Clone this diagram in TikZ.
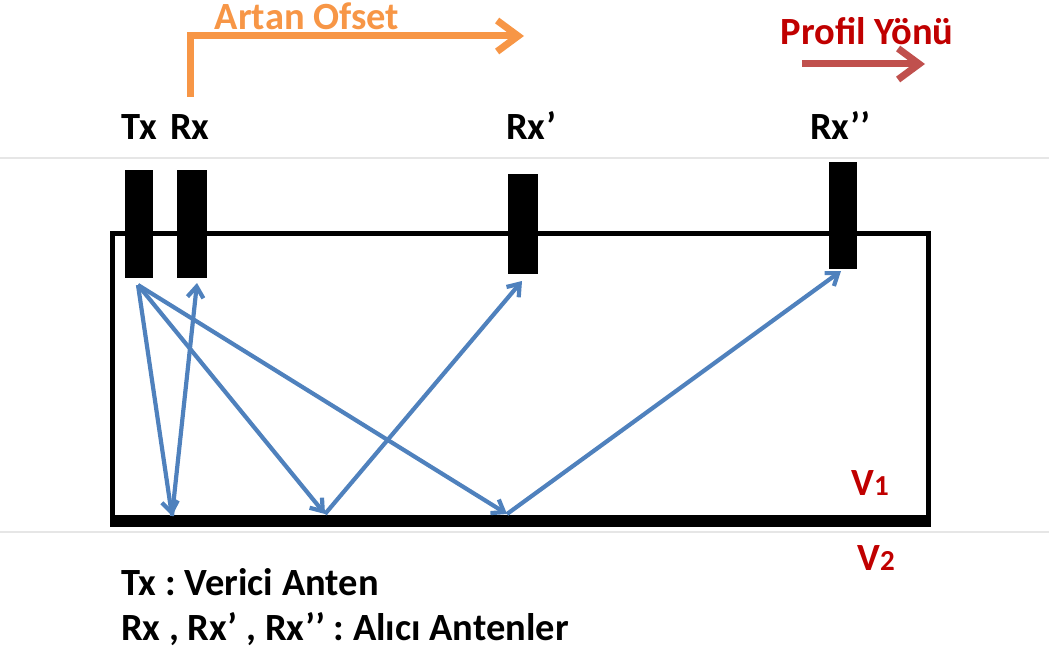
\documentclass[tikz,border=0pt]{standalone}
\usepackage{fontspec}
\setmainfont{Carlito}
\usetikzlibrary{arrows.meta}
\frenchspacing
\definecolor{wave}{HTML}{4F81BD}
\definecolor{orng}{HTML}{F79646}
\definecolor{dred}{HTML}{C00000}
\definecolor{pred}{HTML}{C0504D}
\definecolor{guide}{HTML}{E6E6E6}
\tikzset{
  lbl/.style={inner sep=0pt, anchor=base, font=\fontsize{38.5}{42}\selectfont\bfseries},
  ant/.style={fill=black, draw=none, inner sep=0pt, anchor=north west},
  ray/.style={draw=wave, line width=4.2pt, -{Straight Barb[length=11pt,width=16pt,line width=4.2pt]}},
  bigarrow/.style={line width=7pt, -{Straight Barb[length=21pt,width=31pt,line width=7pt]}},
}
\begin{document}
\begin{tikzpicture}[x=1pt,y=-1pt]
\useasboundingbox (0,0) rectangle (1049,655);
% guide lines
\draw[guide, line width=1.2pt] (0,158) -- (1049,158);
\draw[guide, line width=1.2pt] (0,532) -- (1049,532);
% ground box
\draw[line width=5pt] (928,521) -- (928,233) -- (112,233) -- (112,521);
\draw[line width=12pt] (110,521) -- (931,521);
% antennas
\node[ant, minimum width=28pt, minimum height=108pt] (tx) at (125,170) {};
\node[ant, minimum width=30pt, minimum height=108pt] (rx) at (177,170) {};
\node[ant, minimum width=30pt, minimum height=100pt] (rx1) at (508,174) {};
\node[ant, minimum width=28pt, minimum height=107pt] (rx2) at (829,162) {};
% labels
\node[lbl] (ltx) at (139,140) {Tx};
\node[lbl] (lrx) at (190,140) {Rx};
\node[lbl] (lrx1) at (531,140) {Rx’};
\node[lbl] (lrx2) at (840,140) {Rx’’};
\node[lbl, text=orng] (artan) at (307,30) {Artan Ofset};
\node[lbl, text=dred] (profil) at (867,45) {Profil Yönü};
\node[lbl, text=dred] (v1) at (870,495) {V{\fontsize{29}{32}\selectfont 1}};
\node[lbl, text=dred] (v2) at (876,570) {V{\fontsize{29}{32}\selectfont 2}};
\node[lbl, anchor=base west] (leg1) at (121,595) {Tx : Verici Anten};
\node[lbl, anchor=base west] (leg2) at (121,640) {Rx , Rx’ , Rx’’ : Alıcı Antenler};
% direction arrows
\coordinate (oa) at (190,97);
\coordinate (ob) at (190,36);
\coordinate (oc) at (524,36);
\draw[bigarrow, draw=orng] (oa) -- (ob) -- (oc);
\coordinate (pa) at (802,64);
\coordinate (pb) at (925,64);
\draw[bigarrow, draw=pred] (pa) -- (pb);
% rays
\coordinate (src) at (138,285);
\coordinate (r0) at (172,516);
\coordinate (r1) at (325,514);
\coordinate (r2) at (507,514);
\coordinate (e0) at (197,283);
\coordinate (e1) at (522,281);
\coordinate (e2) at (841,271);
\draw[ray] (src) -- (r0);
\draw[ray] (r0) -- (e0);
\draw[ray] (src) -- (r1);
\draw[ray] (r1) -- (e1);
\draw[ray] (src) -- (r2);
\draw[ray] (r2) -- (e2);
\end{tikzpicture}
\end{document}
